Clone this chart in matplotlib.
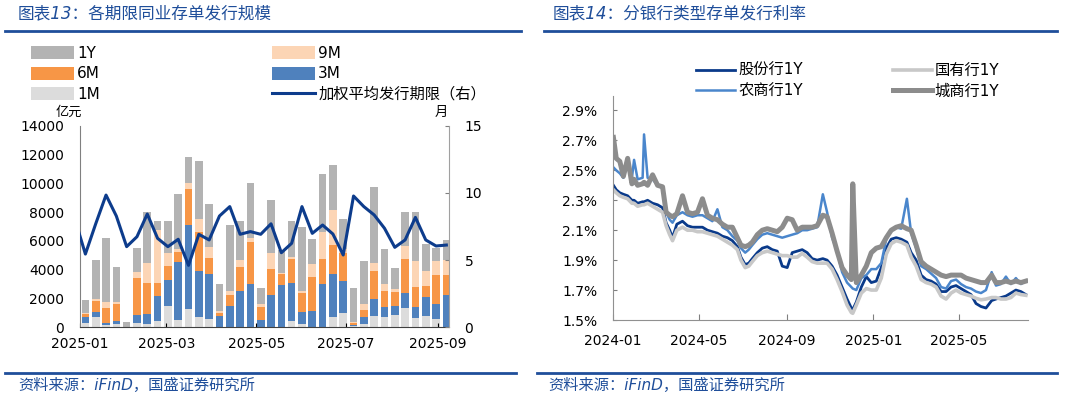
import numpy as np
import pandas as pd
import matplotlib
matplotlib.use("Agg")
import matplotlib.pyplot as plt
import matplotlib.dates as mdates
from matplotlib.lines import Line2D
from matplotlib.ticker import PercentFormatter

plt.rcParams["font.family"] = ["DejaVu Sans", "Noto Sans CJK SC"]
plt.rcParams["axes.unicode_minus"] = False

# ---- 图表13: weekly NCD issuance by tenor (亿元) ----
week_dates = [
    "2025-01-05", "2025-01-12", "2025-01-19", "2025-01-26",
    "2025-02-02", "2025-02-09", "2025-02-16", "2025-02-23",
    "2025-03-02", "2025-03-09", "2025-03-16", "2025-03-23", "2025-03-30",
    "2025-04-06", "2025-04-13", "2025-04-20", "2025-04-27",
    "2025-05-04", "2025-05-11", "2025-05-18", "2025-05-25",
    "2025-06-01", "2025-06-08", "2025-06-15", "2025-06-22", "2025-06-29",
    "2025-07-06", "2025-07-13", "2025-07-20", "2025-07-27",
    "2025-08-03", "2025-08-10", "2025-08-17", "2025-08-24", "2025-08-31",
    "2025-09-07",
]
issue_1m = [320, 740, 140, 210, 0, 320, 230, 440, 1470, 510, 1250, 720, 580,
            0, 0, 0, 0, 0, 0, 0, 460, 230, 0, 0, 690, 1020,
            90, 210, 790, 690, 850, 1320, 670, 790, 550, 0]
issue_3m = [370, 300, 160, 230, 0, 560, 720, 1760, 1810, 4000, 5860, 3170, 3150,
            810, 1500, 2500, 3010, 490, 2250, 2920, 2590, 810, 1130, 3030, 3010, 2220,
            100, 490, 1180, 740, 650, 1040, 760, 1300, 1070, 2250]
issue_6m = [230, 790, 1020, 1180, 0, 2570, 2110, 860, 950, 740, 2480, 2730, 1110,
            180, 720, 1670, 2920, 950, 1810, 760, 1710, 1370, 2380, 1740, 2010, 1900,
            80, 510, 1920, 1110, 970, 2380, 1390, 790, 1990, 1390]
issue_9m = [50, 140, 460, 160, 0, 420, 1390, 3700, 950, 190, 420, 900, 740,
            140, 320, 490, 300, 190, 1090, 70, 120, 120, 880, 1850, 2430, 300,
            120, 420, 560, 440, 160, 930, 1780, 1040, 1000, 1040]
issue_1y = [900, 2700, 4400, 2380, 350, 1670, 3560, 620, 2220, 3790, 1800, 4030, 2980,
            1860, 4560, 2730, 3800, 1130, 3700, 1620, 2520, 4420, 1710, 4050, 3150, 2080,
            2310, 2940, 5320, 2450, 1510, 2340, 3400, 1850, 930, 1390]
# weighted average tenor (months), first value is the week before the window
tenor_dates = ["2024-12-29"] + week_dates
tenor_avg = [8.0, 5.45, 7.7, 9.84, 8.28, 6.0, 6.74, 8.43, 6.62, 6.0, 6.55, 4.61, 6.92,
             6.5, 8.28, 8.98, 6.92, 7.12, 6.92, 7.7, 5.55, 6.25, 8.98, 6.99, 7.61, 6.94,
             5.38, 9.77, 8.98, 8.36, 7.37, 5.95, 6.5, 8.18, 6.5, 6.05, 6.12]

# ---- 图表14: 1Y NCD issuance rate by bank type (%) ----
rate_dates = [
    "2024-01-02", "2024-01-06", "2024-01-11", "2024-01-16", "2024-01-22", "2024-01-28",
    "2024-01-31", "2024-02-05", "2024-02-12", "2024-02-14", "2024-02-19", "2024-02-26",
    "2024-03-04", "2024-03-11", "2024-03-16", "2024-03-21", "2024-03-25", "2024-03-31",
    "2024-04-08", "2024-04-15", "2024-04-22", "2024-04-29", "2024-05-06", "2024-05-13",
    "2024-05-20", "2024-05-27", "2024-06-03", "2024-06-10", "2024-06-17", "2024-06-24",
    "2024-06-29", "2024-07-05", "2024-07-10", "2024-07-15", "2024-07-22", "2024-07-29",
    "2024-08-05", "2024-08-12", "2024-08-19", "2024-08-26", "2024-09-02", "2024-09-09",
    "2024-09-16", "2024-09-23", "2024-09-30", "2024-10-07", "2024-10-14", "2024-10-22",
    "2024-10-28", "2024-11-04", "2024-11-11", "2024-11-18", "2024-11-25", "2024-12-01",
    "2024-12-03", "2024-12-08", "2024-12-15", "2024-12-22", "2024-12-29", "2025-01-05",
    "2025-01-12", "2025-01-19", "2025-01-26", "2025-02-02", "2025-02-09", "2025-02-17",
    "2025-02-23", "2025-03-02", "2025-03-09", "2025-03-16", "2025-03-23", "2025-03-30",
    "2025-04-06", "2025-04-13", "2025-04-20", "2025-04-27", "2025-05-04", "2025-05-11",
    "2025-05-18", "2025-05-25", "2025-06-01", "2025-06-08", "2025-06-16", "2025-06-22",
    "2025-06-29", "2025-07-06", "2025-07-13", "2025-07-20", "2025-07-27", "2025-08-03",
]
rate_jointstock = [
    2.40, 2.37, 2.35, 2.34, 2.33, 2.30, 2.30, 2.28, 2.29, 2.29, 2.30, 2.28,
    2.27, 2.25, 2.15, 2.10, 2.05, 2.14, 2.16, 2.13, 2.12, 2.12, 2.12, 2.10,
    2.09, 2.08, 2.06, 2.05, 2.03, 1.99, 1.92, 1.87, 1.88, 1.91, 1.95, 1.98,
    1.99, 1.97, 1.96, 1.86, 1.85, 1.95, 1.96, 1.97, 1.95, 1.91, 1.90, 1.91,
    1.90, 1.86, 1.80, 1.72, 1.64, 1.58, 1.57, 1.62, 1.72, 1.79, 1.75, 1.76,
    1.85, 1.98, 2.04, 2.05, 2.04, 2.02, 1.95, 1.90, 1.80, 1.77, 1.76, 1.74,
    1.69, 1.69, 1.72, 1.73, 1.71, 1.69, 1.67, 1.61, 1.59, 1.58, 1.63, 1.64,
    1.65, 1.66, 1.68, 1.70, 1.69, 1.67,
]
rate_state = [
    2.37, 2.35, 2.33, 2.32, 2.31, 2.28, 2.28, 2.26, 2.27, 2.27, 2.28, 2.26,
    2.24, 2.22, 2.13, 2.07, 2.03, 2.10, 2.12, 2.10, 2.10, 2.09, 2.09, 2.08,
    2.07, 2.06, 2.04, 2.02, 2.00, 1.97, 1.90, 1.85, 1.86, 1.89, 1.93, 1.95,
    1.96, 1.95, 1.94, 1.93, 1.93, 1.92, 1.92, 1.945, 1.92, 1.89, 1.88, 1.88,
    1.88, 1.84, 1.77, 1.69, 1.60, 1.55, 1.545, 1.60, 1.68, 1.71, 1.70, 1.70,
    1.78, 1.94, 2.01, 2.03, 2.02, 2.00, 1.92, 1.86, 1.77, 1.75, 1.74, 1.72,
    1.66, 1.64, 1.68, 1.70, 1.68, 1.67, 1.66, 1.645, 1.635, 1.64, 1.65, 1.65,
    1.64, 1.64, 1.65, 1.68, 1.67, 1.665,
]
rate_rural = [
    2.52, 2.50, 2.48, 2.45, 2.55, 2.45, 2.57, 2.44, 2.45, 2.74, 2.45, 2.44,
    2.40, 2.38, 2.22, 2.17, 2.15, 2.20, 2.22, 2.20, 2.19, 2.20, 2.20, 2.18,
    2.16, 2.24, 2.12, 2.10, 2.06, 2.03, 1.98, 1.95, 1.97, 2.00, 2.04, 2.07,
    2.08, 2.07, 2.06, 2.05, 2.06, 2.07, 2.08, 2.10, 2.10, 2.11, 2.12, 2.34,
    2.22, 2.05, 1.96, 1.82, 1.75, 1.72, 1.71, 1.70, 1.78, 1.80, 1.84, 1.84,
    1.88, 2.04, 2.10, 2.12, 2.11, 2.31, 2.08, 1.98, 1.86, 1.84, 1.81, 1.78,
    1.72, 1.71, 1.76, 1.77, 1.74, 1.72, 1.71, 1.69, 1.68, 1.70, 1.82, 1.73,
    1.74, 1.79, 1.74, 1.78, 1.74, 1.76,
]
rate_city = [
    2.72, 2.58, 2.56, 2.46, 2.58, 2.41, 2.44, 2.40, 2.41, 2.42, 2.40, 2.47,
    2.40, 2.39, 2.22, 2.20, 2.19, 2.21, 2.33, 2.22, 2.21, 2.22, 2.31, 2.20,
    2.18, 2.17, 2.14, 2.12, 2.12, 2.05, 2.00, 1.99, 2.00, 2.02, 2.07, 2.10,
    2.11, 2.10, 2.09, 2.12, 2.18, 2.17, 2.10, 2.12, 2.12, 2.12, 2.13, 2.20,
    2.19, 2.08, 1.96, 1.85, 1.80, 1.77, 2.41, 1.75, 1.80, 1.86, 1.95, 1.98,
    1.99, 2.05, 2.10, 2.12, 2.13, 2.11, 2.10, 2.00, 1.89, 1.86, 1.84, 1.82,
    1.80, 1.79, 1.80, 1.80, 1.80, 1.78, 1.77, 1.76, 1.75, 1.75, 1.80, 1.75,
    1.75, 1.76, 1.75, 1.76, 1.75, 1.76,
]

W, H = 1065, 398
BLUE_TXT = "#1F4E9A"


def fx(px):
    return px / W


def fy(py):
    return 1 - py / H


fig = plt.figure(figsize=(W / 100, H / 100), dpi=100)

# ================= left chart =================
ax = fig.add_axes([fx(79.5), fy(327.3), fx(449.3) - fx(79.5), fy(125.7) - fy(327.3)])
x = pd.to_datetime(week_dates)
stack = [
    (issue_1m, "#DCDCDC", "1M"),
    (issue_3m, "#4F81BD", "3M"),
    (issue_6m, "#F79646", "6M"),
    (issue_9m, "#FCD5B5", "9M"),
    (issue_1y, "#B3B3B3", "1Y"),
]
bottom = np.zeros(len(x))
bars = {}
for vals, color, label in stack:
    vals = np.array(vals, dtype=float)
    bars[label] = ax.bar(x, vals, width=5.2, bottom=bottom, color=color, label=label)
    bottom += vals

ax.set_xlim(pd.Timestamp("2025-01-01"), pd.Timestamp("2025-09-09"))
ax.set_ylim(0, 14000)
ax.set_yticks(range(0, 14001, 2000))
ax.set_xticks(pd.to_datetime(["2025-01-01", "2025-03-01", "2025-05-01",
                              "2025-07-01", "2025-09-01"]))
ax.xaxis.set_major_formatter(mdates.DateFormatter("%Y-%m"))
ax.tick_params(axis="y", length=0, pad=11, labelsize=10)
ax.tick_params(axis="x", direction="in", length=3, pad=7, labelsize=10)
for s in ["top", "right"]:
    ax.spines[s].set_visible(False)
ax.spines["left"].set_color("#808080")
ax.spines["bottom"].set_color("#404040")

ax2 = ax.twinx()
line, = ax2.plot(pd.to_datetime(tenor_dates), tenor_avg, color="#0D3C8C", lw=2.2,
                 label="加权平均发行期限（右）")
ax2.set_ylim(0, 15)
ax2.set_yticks([0, 5, 10, 15])
ax2.tick_params(axis="y", direction="in", length=3, pad=11, labelsize=10, color="#808080")
for s in ["top", "left", "bottom"]:
    ax2.spines[s].set_visible(False)
ax2.spines["right"].set_color("#A0A0A0")
ax2.set_xlim(ax.get_xlim())

# unit labels sit just above the top tick labels
fig.text(fx(82), fy(118.5), "亿元", ha="right", va="bottom", fontsize=9.5)
fig.text(fx(448), fy(118.5), "月", ha="right", va="bottom", fontsize=9.5)

fig.legend(
    handles=[bars["1Y"], bars["6M"], bars["1M"], bars["9M"], bars["3M"], line],
    labels=["1Y", "6M", "1M", "9M", "3M", "加权平均发行期限（右）"],
    ncol=2, loc="upper left", bbox_to_anchor=(fx(31), fy(46)),
    frameon=False, fontsize=11, handlelength=2.8, handleheight=0.92,
    handletextpad=0.2, columnspacing=11.3, labelspacing=0.36,
    borderpad=0, borderaxespad=0,
)

# ================= right chart =================
bx = fig.add_axes([fx(612.7), fy(320), fx(1028) - fx(612.7), fy(95.5) - fy(320)])
d = pd.to_datetime(rate_dates)
l_js, = bx.plot(d, rate_jointstock, color="#0A3A8A", lw=2.0, label="股份行1Y")
l_st, = bx.plot(d, rate_state, color="#C8C8C8", lw=2.6, label="国有行1Y")
l_ru, = bx.plot(d, rate_rural, color="#4A86CC", lw=1.8, label="农商行1Y")
l_ci, = bx.plot(d, rate_city, color="#8C8C8C", lw=3.6, label="城商行1Y")

bx.set_xlim(pd.Timestamp("2024-01-01"), pd.Timestamp("2025-08-06"))
bx.set_ylim(1.5, 3.0)
bx.set_yticks(np.arange(1.5, 2.95, 0.2))
bx.yaxis.set_major_formatter(PercentFormatter(xmax=100, decimals=1))
bx.set_xticks(pd.to_datetime(["2024-01-01", "2024-05-01", "2024-09-01",
                              "2025-01-01", "2025-05-01"]))
bx.xaxis.set_major_formatter(mdates.DateFormatter("%Y-%m"))
bx.tick_params(axis="y", direction="in", length=3, pad=11, labelsize=10, color="#808080")
bx.tick_params(axis="x", direction="in", length=4, pad=10, labelsize=10, color="#808080")
for s in ["top", "right"]:
    bx.spines[s].set_visible(False)
bx.spines["left"].set_color("#909090")
bx.spines["bottom"].set_color("#909090")

fig.legend(
    handles=[l_js, l_ru, l_st, l_ci],
    labels=["股份行1Y", "农商行1Y", "国有行1Y", "城商行1Y"],
    ncol=2, loc="upper left", bbox_to_anchor=(fx(696), fy(63)),
    frameon=False, fontsize=11, handlelength=2.55, handletextpad=0.2,
    columnspacing=5.9, labelspacing=0.36, borderpad=0, borderaxespad=0,
)

# ================= titles / sources / rules =================
fig.text(fx(18), fy(13), "图表13：各期限同业存单发行规模", color=BLUE_TXT,
         fontsize=12, style="italic", va="center")
fig.text(fx(553), fy(13), "图表14：分银行类型存单发行利率", color=BLUE_TXT,
         fontsize=12, style="italic", va="center")
fig.text(fx(18), fy(385), "资料来源：iFinD，国盛证券研究所", color=BLUE_TXT,
         fontsize=11, style="italic", va="center")
fig.text(fx(548), fy(385), "资料来源：iFinD，国盛证券研究所", color=BLUE_TXT,
         fontsize=11, style="italic", va="center")

for x0, x1, yy in [(5, 521, 30.7), (544, 1057, 30.7), (5, 516, 372.7), (537, 1057, 372.7)]:
    fig.add_artist(Line2D([fx(x0), fx(x1)], [fy(yy), fy(yy)], color="#1F4E9A", lw=2.0))

fig.savefig("out.png", dpi=100)
